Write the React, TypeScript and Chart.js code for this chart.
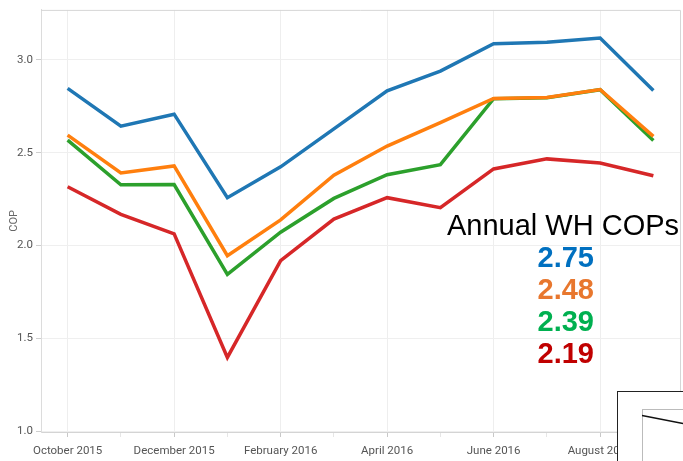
import React, { useEffect, useRef } from "react";
import { Chart, registerables } from "chart.js";

Chart.register(...registerables);

const months = [
  "October 2015", "November 2015", "December 2015", "January 2016",
  "February 2016", "March 2016", "April 2016", "May 2016",
  "June 2016", "July 2016", "August 2016", "September 2016",
];
const blueSeries = [2.847, 2.643, 2.708, 2.258, 2.424, 2.629, 2.834, 2.94, 3.088, 3.096, 3.118, 2.836];
const orangeSeries = [2.595, 2.391, 2.429, 1.945, 2.138, 2.379, 2.536, 2.662, 2.793, 2.798, 2.841, 2.588];
const greenSeries = [2.568, 2.327, 2.329, 1.844, 2.072, 2.254, 2.382, 2.436, 2.791, 2.797, 2.84, 2.566];
const redSeries = [2.317, 2.168, 2.063, 1.397, 1.919, 2.143, 2.258, 2.204, 2.413, 2.467, 2.445, 2.376];
const annualLabels = ["2.75", "2.48", "2.39", "2.19"];
const annualColors = ["#0070C0", "#E8772E", "#00B050", "#C00000"];
const yTicks = [1.0, 1.5, 2.0, 2.5, 3.0];

const tickFont = "Roboto, 'Liberation Sans', Arial, sans-serif";

const frame = {
  id: "frameBorder",
  afterDraw(chart: any) {
    const { ctx, chartArea } = chart;
    ctx.save();
    ctx.strokeStyle = "#d6d6d6";
    ctx.lineWidth = 1;
    ctx.beginPath();
    ctx.moveTo(chartArea.left, chartArea.top + 0.5);
    ctx.lineTo(chartArea.right + 0.5, chartArea.top + 0.5);
    ctx.lineTo(chartArea.right + 0.5, chartArea.bottom);
    ctx.stroke();
    ctx.restore();
  },
};

export default function App() {
  const ref = useRef<HTMLCanvasElement | null>(null);

  useEffect(() => {
    document.body.style.margin = "0";
    if (!ref.current) return;
    const mk = (data: number[], color: string) => ({
      data,
      borderColor: color,
      backgroundColor: color,
      borderWidth: 3.5,
      pointRadius: 0,
      tension: 0,
      fill: false,
    });
    const chart = new Chart(ref.current, {
      type: "line",
      data: {
        labels: months,
        datasets: [
          mk(blueSeries, "#1f77b4"),
          mk(orangeSeries, "#ff7f0e"),
          mk(greenSeries, "#2ca02c"),
          mk(redSeries, "#d62728"),
        ],
      },
      options: {
        animation: false,
        responsive: false,
        maintainAspectRatio: false,
        layout: { padding: { top: 7, right: 3, left: 0, bottom: 0 } },
        plugins: { legend: { display: false }, tooltip: { enabled: false } },
        scales: {
          x: {
            offset: true,
            grid: {
              color: (c: any) => (c.index % 2 === 0 ? "#eeeeee" : "rgba(0,0,0,0)"),
              tickColor: (c: any) => (c.index % 2 === 0 ? "#c8c8c8" : "#e6e6e6"),
              tickLength: 5,
              offset: false,
            },
            border: { color: "#d4d4d4" },
            ticks: {
              autoSkip: false,
              maxRotation: 0,
              minRotation: 0,
              padding: 7,
              color: "#555",
              font: { family: tickFont, size: 11.5 },
              callback: (_v: any, i: number) => (i % 2 === 0 ? months[i] : ""),
            },
            afterFit: (s: any) => { s.height = 29; },
          },
          y: {
            min: 0.995,
            max: 3.27,
            afterBuildTicks: (s: any) => { s.ticks = yTicks.map((v) => ({ value: v })); },
            grid: { color: "#efefef", tickColor: "#cfcfcf", tickLength: 5 },
            border: { color: "#dcdcdc" },
            ticks: {
              padding: 3,
              color: "#555",
              font: { family: tickFont, size: 11.5 },
              callback: (v: any) => Number(v).toFixed(1),
            },
            title: {
              display: true,
              text: "COP",
              color: "#666",
              padding: { top: 8, bottom: 0 },
              font: { family: tickFont, size: 11 },
            },
            afterFit: (s: any) => { s.width = 41; },
          },
        },
      },
      plugins: [frame],
    });
    return () => chart.destroy();
  }, []);

  return (
    <div style={{ position: "relative", width: 683, height: 461, overflow: "hidden", background: "#fff" }}>
      <canvas ref={ref} width={683} height={461} style={{ display: "block" }} />
      <div
        style={{
          position: "absolute",
          left: 447,
          top: 207,
          fontFamily: "'Liberation Sans', Arial, sans-serif",
          fontSize: 29,
          lineHeight: "36px",
          color: "#000",
          whiteSpace: "nowrap",
        }}
      >
        Annual WH COPs
      </div>
      {annualLabels.map((t, i) => (
        <div
          key={t}
          style={{
            position: "absolute",
            right: 683 - 594,
            top: 239 + i * 32,
            fontFamily: "'Liberation Sans', Arial, sans-serif",
            fontWeight: "bold",
            fontSize: 29,
            lineHeight: "36px",
            color: annualColors[i],
            whiteSpace: "nowrap",
          }}
        >
          {t}
        </div>
      ))}
      <svg
        width={683}
        height={461}
        style={{ position: "absolute", left: 0, top: 0, pointerEvents: "none" }}
      >
        <rect x={617.5} y={391.5} width={80} height={80} fill="#fff" stroke="#222" strokeWidth={1} />
        <rect x={642.5} y={409.5} width={60} height={60} fill="#fff" stroke="#bbb" strokeWidth={1} />
        <line x1={642} y1={415.5} x2={683} y2={423.5} stroke="#111" strokeWidth={1.3} />
      </svg>
    </div>
  );
}
